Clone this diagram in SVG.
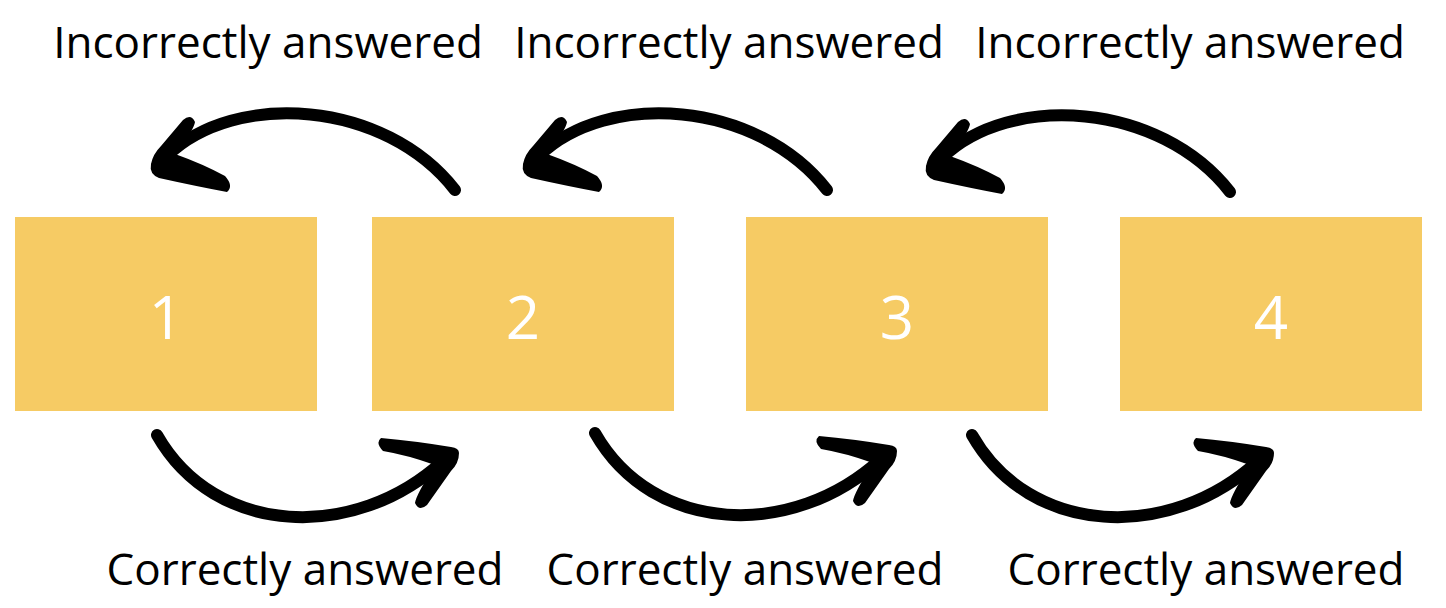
<svg xmlns="http://www.w3.org/2000/svg" width="1446" height="608" viewBox="0 0 1446 608">
<style>
.box{fill:#F6CB64}
.num{font-family:"Open Sans","Noto Sans",sans-serif;font-size:60px;fill:#ffffff;text-anchor:middle;dominant-baseline:central}
.lbl{font-family:"Open Sans","Noto Sans",sans-serif;font-size:44px;fill:#000000;text-anchor:middle}
.shaft{fill:none;stroke:#000;stroke-width:12;stroke-linecap:round}
.head{fill:#000}
</style>
<defs>
<g id="arrowLeft">
<path class="shaft" d="M300,30 C230,-60 80,-70 12,-4"/>
<path class="head" d="M-4,4 Q-2,-6 6,-14 L28,-40 Q36,-47 40,-38 Q39,-30 20,-6 Q48,4 70,16 Q79,26 72,32 Q40,26 4,18 Q-6,14 -4,4 Z"/>
</g>
<g id="arrowRight">
<path class="shaft" d="M-298,-22 C-240,80 -100,85 -12,4"/>
<path class="head" d="M4,-4 Q4,6 -4,14 L-28,48 Q-36,55 -40,46 Q-39,38 -20,8 Q-48,-2 -72,-6 Q-80,-14 -74,-19 Q-40,-16 -4,-10 Q4,-9 4,-4 Z"/>
</g>
</defs>
<g id="node1"><rect class="box" x="15" y="217" width="302" height="194"/><text class="num" x="166" y="316">1</text></g>
<g id="node2"><rect class="box" x="372" y="217" width="302" height="194"/><text class="num" x="523" y="316">2</text></g>
<g id="node3"><rect class="box" x="746" y="217" width="302" height="194"/><text class="num" x="897" y="316">3</text></g>
<g id="node4"><rect class="box" x="1120" y="217" width="302" height="194"/><text class="num" x="1271" y="316">4</text></g>
<g id="connectors">
<use href="#arrowLeft" transform="translate(155,160)"/>
<use href="#arrowLeft" transform="translate(527,160)"/>
<use href="#arrowLeft" transform="translate(930,162)"/>
<use href="#arrowRight" transform="translate(455,457)"/>
<use href="#arrowRight" transform="translate(893,455)"/>
<use href="#arrowRight" transform="translate(1270,457)"/>
</g>
<g id="labels">
<text class="lbl" x="268" y="58">Incorrectly answered</text>
<text class="lbl" x="729" y="58">Incorrectly answered</text>
<text class="lbl" x="1190" y="58">Incorrectly answered</text>
<text class="lbl" x="305" y="585">Correctly answered</text>
<text class="lbl" x="745" y="585">Correctly answered</text>
<text class="lbl" x="1206" y="585">Correctly answered</text>
</g>
</svg>
